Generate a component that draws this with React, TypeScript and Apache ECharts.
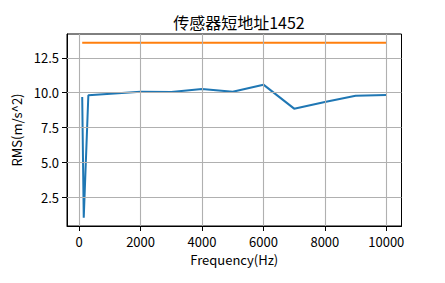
import React, { useEffect, useRef } from "react";
import * as echarts from "echarts";

const freqs = [100, 150, 300, 2000, 3000, 4000, 5000, 6000, 7000, 8000, 9000, 10000];
const rmsValues = [9.7, 1.05, 9.82, 10.08, 10.05, 10.26, 10.07, 10.58, 8.86, 9.33, 9.78, 9.84];
const limitValue = 13.58;
const limitRange = [100, 10000];
const xTicks = [0, 2000, 4000, 6000, 8000, 10000];
const yTicks = [2.5, 5.0, 7.5, 10.0, 12.5];
const titleText = "传感器短地址1452";
const xName = "Frequency(Hz)";
const yName = "RMS(m/s^2)";

const FONT = "'Noto Sans CJK SC', 'Noto Sans', sans-serif";

export default function App() {
  const ref = useRef<HTMLDivElement>(null);
  useEffect(() => {
    document.body.style.margin = "0";
    const chart = echarts.init(ref.current!, null, { renderer: "svg" });
    const gridColor = "#b0b0b0";
    const gridLines = [
      ...xTicks.map((v) => ({ xAxis: v })),
      ...yTicks.map((v) => ({ yAxis: v })),
    ];
    chart.setOption({
      animation: false,
      backgroundColor: "#ffffff",
      title: {
        text: titleText,
        left: 234,
        top: 9,
        textAlign: "center",
        textStyle: { fontFamily: FONT, fontSize: 16, fontWeight: "normal", color: "#000" },
      },
      grid: {
        left: 67,
        right: 43.5,
        top: 34,
        bottom: 57,
        show: true,
        borderColor: "#000",
        borderWidth: 1,
        backgroundColor: "transparent",
      },
      xAxis: {
        type: "value",
        min: -395,
        max: 10495,
        name: xName,
        nameLocation: "middle",
        nameGap: 27,
        nameTextStyle: { fontFamily: FONT, fontSize: 13, color: "#000" },
        axisLine: { show: true, onZero: false, lineStyle: { color: "#000", width: 1 } },
        axisTick: { show: true, inside: false, length: 5, customValues: xTicks, lineStyle: { color: "#000" } },
        axisLabel: {
          customValues: xTicks,
          margin: 9,
          fontFamily: FONT,
          fontSize: 13,
          color: "#000",
          formatter: (v: number) => String(v),
        },
        splitLine: { show: false },
      },
      yAxis: {
        type: "value",
        min: 0.45,
        max: 14.21,
        name: yName,
        nameLocation: "middle",
        nameGap: 44,
        nameTextStyle: { fontFamily: FONT, fontSize: 13, color: "#000" },
        axisLine: { show: true, onZero: false, lineStyle: { color: "#000", width: 1 } },
        axisTick: { show: true, inside: false, length: 5, customValues: yTicks, lineStyle: { color: "#000" } },
        axisLabel: {
          customValues: yTicks,
          margin: 8,
          fontFamily: FONT,
          fontSize: 13,
          color: "#000",
          formatter: (v: number) => v.toFixed(1),
        },
        splitLine: { show: false },
      },
      series: [
        {
          type: "line",
          data: [],
          silent: true,
          z: 1,
          markLine: {
            silent: true,
            symbol: "none",
            label: { show: false },
            lineStyle: { color: gridColor, width: 1.1, type: "solid" },
            data: gridLines,
          },
        },
        {
          type: "line",
          data: freqs.map((f, i) => [f, rmsValues[i]]),
          showSymbol: false,
          symbol: "none",
          lineStyle: { color: "#1f77b4", width: 2 },
          z: 3,
        },
        {
          type: "line",
          data: limitRange.map((f) => [f, limitValue]),
          showSymbol: false,
          symbol: "none",
          lineStyle: { color: "#ff7f0e", width: 2 },
          z: 3,
        },
      ],
    });
    return () => chart.dispose();
  }, []);
  return <div ref={ref} style={{ width: 445, height: 283 }} />;
}
